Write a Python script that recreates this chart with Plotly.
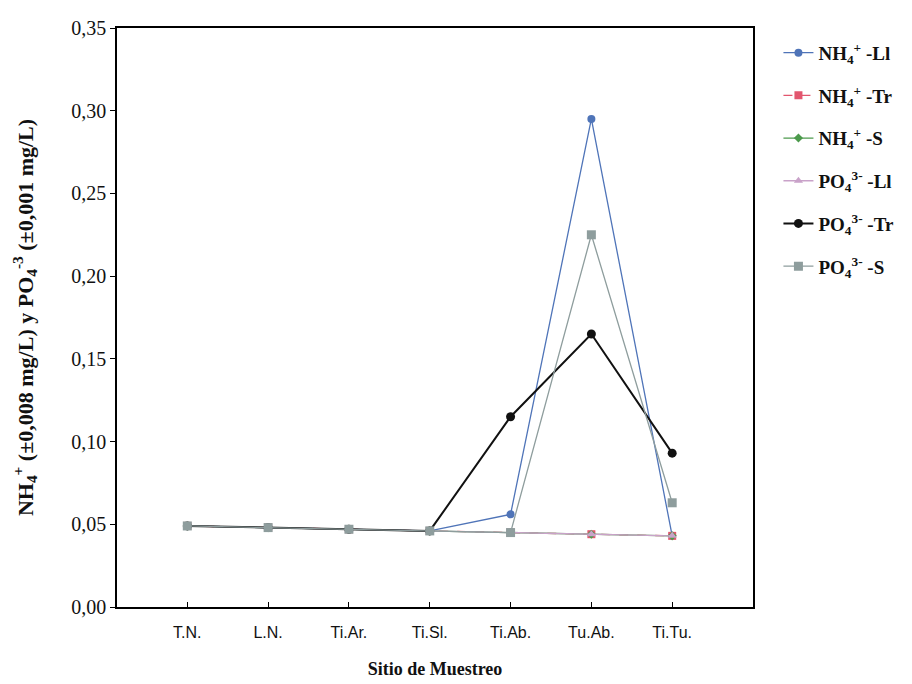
import plotly.graph_objects as go

sites = ["T.N.", "L.N.", "Ti.Ar.", "Ti.Sl.", "Ti.Ab.", "Tu.Ab.", "Ti.Tu."]

nh4_ll = [0.049, 0.048, 0.047, 0.046, 0.056, 0.295, 0.043]
nh4_tr = [0.049, 0.048, 0.047, 0.046, 0.045, 0.044, 0.043]
nh4_s = [0.049, 0.048, 0.047, 0.046, 0.045, 0.044, 0.043]
po4_ll = [0.049, 0.048, 0.047, 0.046, 0.045, 0.044, 0.043]
po4_tr = [0.049, 0.048, 0.047, 0.046, 0.115, 0.165, 0.093]
po4_s = [0.049, 0.048, 0.047, 0.046, 0.045, 0.225, 0.063]

y_ticks = [0.00, 0.05, 0.10, 0.15, 0.20, 0.25, 0.30, 0.35]

series = [
    ("NH<sub>4</sub><sup>+</sup> -Ll", nh4_ll, "#4f74b8", "circle", 8, "solid", 1.3),
    ("NH<sub>4</sub><sup>+</sup> -Tr", nh4_tr, "#e2566e", "square", 8, "dash", 1.3),
    ("NH<sub>4</sub><sup>+</sup> -S", nh4_s, "#4c9a4c", "diamond", 7, "solid", 1.3),
    ("PO<sub>4</sub><sup>3-</sup> -Ll", po4_ll, "#c9a2c9", "triangle-up", 8, "solid", 1.3),
    ("PO<sub>4</sub><sup>3-</sup> -Tr", po4_tr, "#111111", "circle", 9, "solid", 2.0),
    ("PO<sub>4</sub><sup>3-</sup> -S", po4_s, "#8e9d9d", "square", 9, "solid", 1.3),
]

xs = list(range(len(sites)))

fig = go.Figure()
for i, (name, vals, color, sym, size, dash, lw) in enumerate(series):
    fig.add_trace(go.Scatter(
        x=xs, y=vals, name=f"<b>{name}</b>", mode="lines+markers",
        line=dict(color=color, width=lw, dash=dash),
        marker=dict(color=color, symbol=sym, size=size),
        legendgroup=f"g{i}",
    ))

serif = "Liberation Serif, Times New Roman, serif"

fig.update_layout(
    width=912, height=684,
    margin=dict(l=117, r=159, t=28, b=77),
    paper_bgcolor="white", plot_bgcolor="white",
    separators=", ",
    showlegend=True,
    legend=dict(
        x=1.04, y=0.99, xanchor="left", yanchor="top",
        font=dict(family=serif, size=19, color="#111111"),
        bgcolor="rgba(0,0,0,0)", tracegroupgap=15,
        itemwidth=30, traceorder="grouped",
    ),
    xaxis=dict(
        range=[-0.87, 7.0], automargin=False,
        tickmode="array", tickvals=xs, ticktext=sites,
        ticks="inside", ticklen=5, tickcolor="black",
        ticklabelstandoff=10,
        showline=True, linecolor="black", linewidth=1.5, mirror=True,
        showgrid=False, zeroline=False,
        tickfont=dict(family="Liberation Sans, Arial, sans-serif", size=16, color="#111111"),
        title=dict(text="<b>Sitio de Muestreo</b>", standoff=22,
                   font=dict(family=serif, size=18, color="#111111")),
    ),
    yaxis=dict(
        range=[0, 0.35], automargin=False,
        tickmode="array", tickvals=y_ticks, tickformat=".2f",
        ticks="outside", ticklen=5, tickcolor="black",
        showline=True, linecolor="black", linewidth=1.5, mirror=True,
        showgrid=False, zeroline=False,
        tickfont=dict(family=serif, size=20, color="#111111"),
        title=dict(
            text="<b>NH<sub>4</sub><sup>+</sup> (±0,008 mg/L) y PO<sub>4</sub><sup>-3</sup> (±0,001 mg/L)</b>",
            standoff=32,
            font=dict(family=serif, size=22, color="#111111"),
        ),
    ),
)

fig.write_html("out.html")
